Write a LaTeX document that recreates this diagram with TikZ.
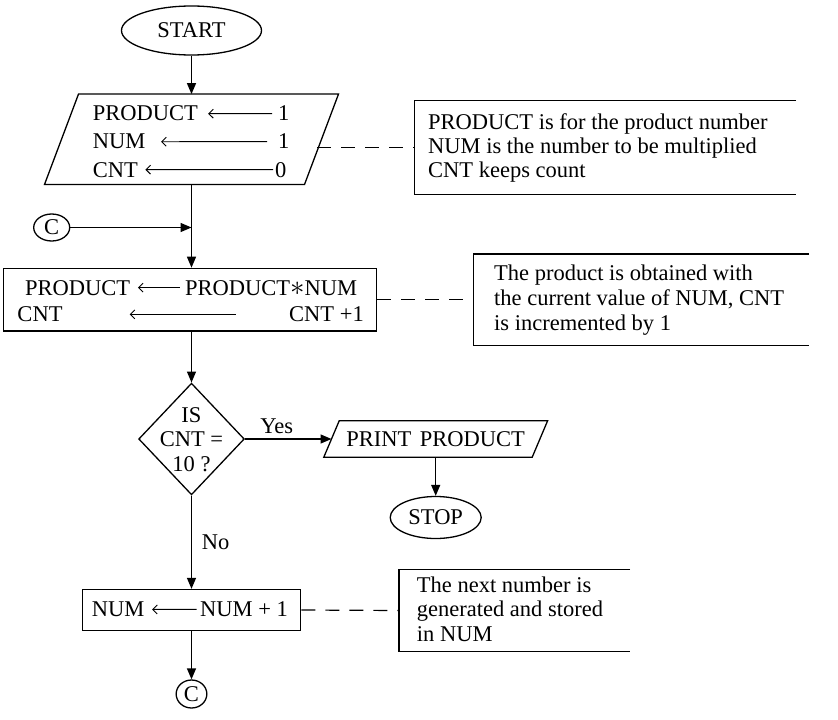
\documentclass[tikz,border=0pt]{standalone}
\usepackage{fontspec}
\setmainfont{Liberation Serif}
\usetikzlibrary{shapes.geometric,arrows.meta,calc}
\newcommand\myfs{\fontsize{22.5bp}{24bp}\selectfont}
\begin{document}
\begin{tikzpicture}[x=1bp,y=-1bp,font=\myfs,
  shp/.style={draw,line width=1.3bp,inner sep=0pt},
  ghost/.style={inner sep=0pt,draw=none},
  outline/.style={line width=1.3bp},
  flow/.style={line width=1.3bp,-{Triangle[length=11bp,width=9bp]}},
  ia/.style={line width=0.9bp,{Straight Barb[length=4.5bp,width=9bp]}-},
  dl/.style={line width=1.2bp,dash pattern=on 14bp off 10bp},
  tx/.style={inner sep=0pt,anchor=base west},
  tc/.style={inner sep=0pt,anchor=base}]
\useasboundingbox (0,0) rectangle (838,720);

% START
\node[shp,ellipse,minimum width=140bp,minimum height=49bp] (start) at (191.5,30.5) {START};

% initialisation parallelogram
\node[ghost,minimum width=259.6bp,minimum height=90bp] (init) at (191.5,139.3) {};
\draw[outline] ([xshift=17bp]init.north west) -- ([xshift=17bp]init.north east)
  -- ([xshift=-17bp]init.south east) -- ([xshift=-17bp]init.south west) -- cycle;
\node[tx] (i1a) at (92.7,121) {PRODUCT};
\node[tx] (i1b) at (278,121) {1};
\draw[ia,shorten <=10bp,shorten >=6bp] (i1a.east) -- (i1b.west);
\node[tx] (i2a) at (92.7,149) {NUM};
\node[tx] (i2b) at (278,149) {1};
\draw[ia,shorten <=15.5bp,shorten >=11bp] (i2a.east) -- (i2b.west);
\node[tx] (i3a) at (92.7,177) {CNT};
\node[tx] (i3b) at (275,177) {0};
\draw[ia,shorten <=7.3bp,shorten >=2bp] (i3a.east) -- (i3b.west);
\draw[flow] (start) -- (init.north);

% annotation 1
\node[ghost,minimum width=381bp,minimum height=93bp] (ann1) at (605.5,147.5) {};
\draw[outline] (ann1.north east) -- (ann1.north west) -- (ann1.south west) -- (ann1.south east);
\node[tx] (a1l1) at (428,130) {PRODUCT is for the product number};
\node[tx] (a1l2) at (428,154) {NUM is the number to be multiplied};
\node[tx] (a1l3) at (428,177.5) {CNT keeps count};
\coordinate (initR) at (317.3,147.5);
\draw[dl] (initR) -- (ann1.west);

% connector C (top)
\node[shp,ellipse,minimum width=36bp,minimum height=27bp] (c1) at (51.7,227.5) {C};
\coordinate (join) at (191.5,227.5);
\draw[flow] (c1) -- (join);

% process box
\node[shp,minimum width=373.4bp,minimum height=62.7bp] (proc) at (190,299.7) {};
\draw[flow] (init.south) -- (init.south |- proc.north);
\node[tx] (p1a) at (25,295) {PRODUCT};
\node[tx] (p1b) at (185,295) {PRODUCT\scalebox{1.4}{$\ast$}NUM};
\draw[ia,shorten <=7.5bp,shorten >=5bp] (p1a.east) -- (p1b.west);
\node[tx] (p2a) at (17.3,321.7) {CNT};
\node[tx] (p2b) at (289,321.7) {CNT +1};
\draw[ia,shorten <=67bp,shorten >=53bp] (p2a.east) -- (p2b.west);

% annotation 2
\node[ghost,minimum width=335bp,minimum height=91bp] (ann2) at (641.5,299.7) {};
\draw[outline] (ann2.north east) -- (ann2.north west) -- (ann2.south west) -- (ann2.south east);
\node[tx] (a2l1) at (494,280) {The product is obtained with};
\node[tx] (a2l2) at (494,305) {the current value of NUM, CNT};
\node[tx] (a2l3) at (494,330.7) {is incremented by 1};
\draw[dl] (proc.east) -- (ann2.west);

% decision
\node[shp,diamond,minimum width=105.7bp,minimum height=111.7bp] (dec) at (191.5,439) {};
\draw[flow] (dec.north |- proc.south) -- (dec.north);
\node[tc] (d1) at (191.5,422.7) {IS};
\node[tc] (d2) at (191.5,446.7) {CNT =};
\node[tc] (d3) at (191.5,471.7) {10 ?};

% print
\node[ghost,minimum width=208bp,minimum height=36bp] (print) at (435.7,439) {PRINT\hspace{0.38em}PRODUCT};
\draw[outline] ([xshift=7.7bp]print.north west) -- ([xshift=7.7bp]print.north east)
  -- ([xshift=-7.7bp]print.south east) -- ([xshift=-7.7bp]print.south west) -- cycle;
\draw[flow] (dec.east) -- (print.west);
\node[tc] (yes) at (276.7,433) {Yes};

% stop
\node[shp,ellipse,minimum width=91bp,minimum height=42bp] (stop) at (435.7,517.5) {STOP};
\draw[flow] (print.south) -- (stop.north);

% NUM box
\node[shp,minimum width=218.3bp,minimum height=41bp] (numb) at (191.5,610) {};
\draw[flow] (dec.south) -- (dec.south |- numb.north);
\node[tx] (no) at (201.7,549.3) {No};
\node[tx] (n1a) at (91.7,616.7) {NUM};
\node[tx] (n1b) at (200,616.7) {NUM + 1};
\draw[ia,shorten <=7.5bp,shorten >=3.3bp] (n1a.east) -- (n1b.west);

% annotation 3
\node[ghost,minimum width=230.7bp,minimum height=82bp] (ann3) at (514.65,610.5) {};
\draw[outline] (ann3.north east) -- (ann3.north west) -- (ann3.south west) -- (ann3.south east);
\node[tx] (a3l1) at (416.7,592.7) {The next number is};
\node[tx] (a3l2) at (416.7,616.7) {generated and stored};
\node[tx] (a3l3) at (416.7,641.7) {in NUM};
\draw[dl] (numb.east) -- (ann3.west);

% connector C (bottom)
\node[shp,ellipse,minimum width=30.7bp,minimum height=28bp] (c2) at (191.5,694) {C};
\draw[flow] (numb.south) -- (numb.south |- c2.north);
\end{tikzpicture}
\end{document}
